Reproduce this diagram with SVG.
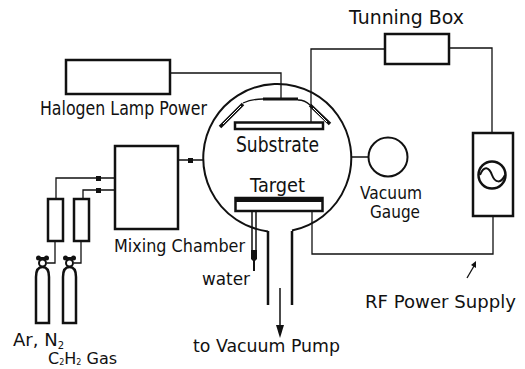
<svg xmlns="http://www.w3.org/2000/svg" width="525" height="369" viewBox="0 0 525 369">
<style>
text{font-family:"DejaVu Sans","Liberation Sans",sans-serif;font-size:18px;fill:#111}
.b{fill:#fff;stroke:#111;stroke-width:2.5}
.t{fill:none;stroke:#111;stroke-width:1.3}
.m{fill:none;stroke:#111;stroke-width:2.5}
.k{fill:#111;stroke:none}
</style>
<rect width="525" height="369" fill="#fff"/>
<g id="connectors">
<path class="t" d="M171 73H281V99M311 122V49H385M449 48H492V133M493 216V254H312V211M351 157H368"/>
<path class="t" d="M56 199V178H115M83 199V190H115M55 241V263H47M81 241V263H74M178 160H203"/>
<rect class="k" x="96" y="176" width="5" height="5"/>
<rect class="k" x="96" y="188" width="5" height="5"/>
<rect class="k" x="188" y="158" width="5" height="5"/>
<path class="m" style="stroke-width:1.5" d="M252 211V255M256 211V255"/>
<path class="k" d="M251 250H257V259L255 261V271H253V261L251 259Z"/>
<path class="m" style="stroke-width:1.5" d="M280 288V326"/>
<path class="k" d="M276 325H284L280 338Z"/>
<path class="t" d="M467 278L474 266"/>
<path class="k" d="M476 261L476 268L471 265Z"/>
</g>
<g id="chamber">
<path class="m" style="stroke-width:2" d="M268 231.400A74 74 0 1 1 292 230.500"/>
<path class="m" d="M268 231V305M292 231V305"/>
</g>
<g id="heater">
<path class="t" d="M243 103Q252 99 263 99M298 100Q305 100 310 105"/>
<path class="m" style="stroke-width:3" d="M263 99H298"/>
<path class="m" style="stroke-width:3.500" d="M220 127L243 104M310 105L330 124"/>
<path d="M223 124L241 106M313 108L327 122" fill="none" stroke="#fff" stroke-width="1"/>
</g>
<g id="substrate">
<rect class="b" x="235" y="122.500" width="88" height="6.500"/>
<text x="236" y="152" textLength="83" lengthAdjust="spacingAndGlyphs" style="font-size:22px">Substrate</text>
</g>
<g id="target">
<rect class="b" x="235.500" y="198" width="87" height="13"/>
<rect class="k" x="235" y="197" width="88" height="5"/>
<text x="250" y="192" textLength="55" lengthAdjust="spacingAndGlyphs" style="font-size:20px">Target</text>
</g>
<g id="halogen">
<rect class="b" x="66" y="60" width="104" height="34"/>
<text x="40" y="114.500" textLength="167" lengthAdjust="spacingAndGlyphs" style="font-size:20px">Halogen Lamp Power</text>
</g>
<g id="tunning">
<rect class="b" x="385" y="34" width="64" height="30"/>
<text x="349" y="24" textLength="115" lengthAdjust="spacingAndGlyphs" style="font-size:20px">Tunning Box</text>
</g>
<g id="gauge">
<circle cx="388" cy="157" r="19.500" fill="#fff" stroke="#111" stroke-width="2"/>
<text x="360" y="199" textLength="62" lengthAdjust="spacingAndGlyphs" style="font-size:17px">Vacuum</text>
<text x="370" y="218" textLength="50" lengthAdjust="spacingAndGlyphs" style="font-size:17px">Gauge</text>
</g>
<g id="rf">
<rect class="b" x="473" y="133" width="40" height="83"/>
<circle cx="492" cy="175" r="13.500" fill="#fff" stroke="#111" stroke-width="2.500"/>
<path class="m" style="stroke-width:2" d="M480 175C484 165 489 167 492 175S501 184 505 175"/>
<text x="365" y="308" textLength="151" lengthAdjust="spacingAndGlyphs">RF Power Supply</text>
</g>
<g id="mixing">
<rect class="b" x="115" y="146" width="63" height="83"/>
<text x="114" y="252" textLength="131" lengthAdjust="spacingAndGlyphs">Mixing Chamber</text>
</g>
<g id="flow1"><rect class="b" x="48" y="199" width="15" height="42"/></g>
<g id="flow2"><rect class="b" x="74" y="199" width="15" height="42"/></g>
<g id="cyl1">
<path class="b" d="M36 323V277Q36 267 42.500 267Q49 267 49 277V323Z"/>
<circle cx="42.500" cy="263" r="3.500" fill="#fff" stroke="#111" stroke-width="2"/>
<circle class="k" cx="38.500" cy="258" r="2.500"/>
<circle class="k" cx="46.500" cy="258" r="2.500"/>
<path class="m" style="stroke-width:2" d="M38 258H47"/>
</g>
<g id="cyl2">
<path class="b" d="M63 323V277Q63 267 69.500 267Q76 267 76 277V323Z"/>
<circle cx="69.500" cy="263" r="3.500" fill="#fff" stroke="#111" stroke-width="2"/>
<circle class="k" cx="65.500" cy="258" r="2.500"/>
<circle class="k" cx="73.500" cy="258" r="2.500"/>
<path class="m" style="stroke-width:2" d="M65 258H74"/>
</g>
<g id="labels">
<text x="202" y="285" textLength="48" lengthAdjust="spacingAndGlyphs">water</text>
<text x="193" y="352" textLength="147" lengthAdjust="spacingAndGlyphs">to Vacuum Pump</text>
<text x="13" y="346">Ar, N<tspan font-size="10" dy="3">2</tspan></text>
<text x="48" y="364" style="font-size:16px">C<tspan font-size="8" dy="1">2</tspan><tspan dy="-1">H</tspan><tspan font-size="8" dy="1">2</tspan><tspan dy="-1"> Gas</tspan></text>
</g>
</svg>
